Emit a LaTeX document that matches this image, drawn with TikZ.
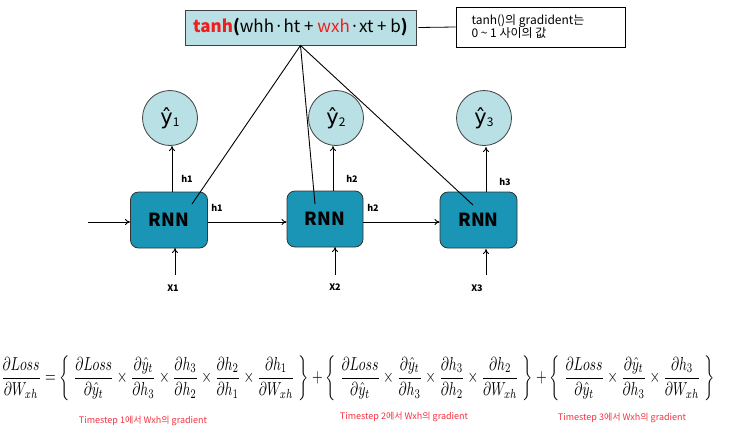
\documentclass[tikz,border=0pt]{standalone}
\usepackage{amsmath}
\usepackage{fontspec}
\setmainfont{Noto Sans CJK KR}
\newfontfamily\symfont{DejaVu Sans}
\usepackage{graphicx}
\usetikzlibrary{positioning,arrows.meta}
\definecolor{cellpale}{HTML}{B9E0E4}
\definecolor{cellrnn}{HTML}{1A95B5}
\definecolor{tanhred}{HTML}{F01E1E}
\definecolor{notered}{HTML}{F5303F}
\tikzset{
	formulabox/.style={draw=black!75, fill=cellpale, line width=0.9pt, minimum width=231pt, minimum height=35pt, inner sep=0pt},
	notebox/.style={draw=black, fill=white, line width=0.8pt, minimum width=169pt, minimum height=40pt, align=left, inner sep=0pt, font=\fontsize{12}{13}\selectfont},
	outcircle/.style={circle, draw=black!75, fill=cellpale, line width=0.8pt, minimum size=55pt, inner sep=0pt},
	rnnbox/.style={draw=black!80, fill=cellrnn, rounded corners=8pt, line width=0.8pt, minimum width=77pt, minimum height=56pt, font=\fontsize{18}{18}\selectfont\bfseries},
	smalllabel/.style={font=\fontsize{9}{9}\selectfont\bfseries, inner sep=1pt},
	steplabel/.style={text=notered, font=\fontsize{9}{9}\selectfont, inner sep=1pt},
	flow/.style={-{To[length=5pt,width=6pt]}, line width=0.9pt}
}
\newcommand{\yhat}[1]{{\symfont\fontsize{21}{21}\selectfont ŷ}{\fontsize{12}{12}\selectfont\raisebox{-2pt}{#1}}}
\begin{document}
\begin{tikzpicture}[x=1pt,y=-1pt]
	%%%%% START %%%%%
	\useasboundingbox (0,0) rectangle (738,437);
	\def\ycirc{118}
	\def\ybox{220}
	\def\ylab{288}

	% top formula and its note
	\node[formulabox] (formula) at (300.5,27.5) {\fontsize{17}{17}\selectfont\textcolor{tanhred}{\bfseries tanh}{\bfseries(}whh·ht + \textcolor{tanhred}{wxh}·xt + b{\bfseries)}};
	\node[notebox] (note) at (540.5,27) {\hspace*{12pt}\parbox{150pt}{tanh()의 gradident는\\0 \textasciitilde{} 1 사이의 값}};
	\draw[line width=0.8pt] (formula.east) ++(2,0) -- (note.west);

	% outputs
	\node[outcircle] (y1) at (170,\ycirc) {\yhat{1}};
	\node[outcircle] (y2) at (336,\ycirc) {\yhat{2}};
	\node[outcircle] (y3) at (484,\ycirc) {\yhat{3}};

	% cells
	\node[rnnbox] (rnn1) at (169,\ybox) {RNN};
	\node[rnnbox, minimum width=76pt] (rnn2) at (325,219) {RNN};
	\node[rnnbox] (rnn3) at (478.5,\ybox) {RNN};

	% inputs
	\node[smalllabel] (x1) at (173,\ylab) {X1};
	\node[smalllabel] (x2) at (335,287) {X2};
	\node[smalllabel] (x3) at (477,\ylab) {X3};
	\coordinate (in0) at (88,222);

	\draw[flow] (in0) -- (in0 -| rnn1.west);
	\draw[flow] (rnn1.east |- 0,222) -- (rnn2.west |- 0,222);
	\draw[flow] (rnn2.east |- 0,222) -- (rnn3.west |- 0,222);
	\node[smalllabel] at (217,208) {h1};
	\node[smalllabel] at (373,208) {h2};

	\draw[flow] (rnn1.north -| 172,0) -- (172,146);
	\draw[flow] (rnn2.north -| 333,0) -- (333,146);
	\draw[flow] (rnn3.north -| 486,0) -- (486,147);
	\node[smalllabel] at (187,179) {h1};
	\node[smalllabel] at (352,179) {h2};
	\node[smalllabel] at (505,182) {h3};

	\draw[flow] (175,275) -- (175,248);
	\draw[flow] (335,275) -- (335,247);
	\draw[flow] (486,275) -- (486,249);

	% lines from the formula into the cells
	\coordinate (t1) at (192,204);
	\coordinate (t2) at (315,204);
	\coordinate (t3) at (473,205);
	\draw[line width=0.9pt] (formula.south) -- (t1);
	\draw[line width=0.9pt] (formula.south) -- (t2);
	\draw[line width=0.9pt] (formula.south) -- (t3);

	% gradient sum
	\node[inner sep=0pt] (grad) at (358,378) {\resizebox*{714pt}{45pt}{$\displaystyle
		\frac{\partial Loss}{\partial W_{xh}} =
		\left\{\;\frac{\partial Loss}{\partial \hat{y}_t}\times\frac{\partial \hat{y}_t}{\partial h_3}\times\frac{\partial h_3}{\partial h_2}\times\frac{\partial h_2}{\partial h_1}\times\frac{\partial h_1}{\partial W_{xh}}\;\right\}
		+\left\{\;\frac{\partial Loss}{\partial \hat{y}_t}\times\frac{\partial \hat{y}_t}{\partial h_3}\times\frac{\partial h_3}{\partial h_2}\times\frac{\partial h_2}{\partial W_{xh}}\;\right\}
		+\left\{\;\frac{\partial Loss}{\partial \hat{y}_t}\times\frac{\partial \hat{y}_t}{\partial h_3}\times\frac{\partial h_3}{\partial W_{xh}}\;\right\}$}};
	\node[steplabel] (step1) at (143,421) {Timestep 1에서 Wxh의 gradient};
	\node[steplabel] (step2) at (404,417) {Timestep 2에서 Wxh의 gradient};
	\node[steplabel] (step3) at (622,418) {Timestep 3에서 Wxh의 gradient};
	%%%%% END %%%%%
\end{tikzpicture}
\end{document}
